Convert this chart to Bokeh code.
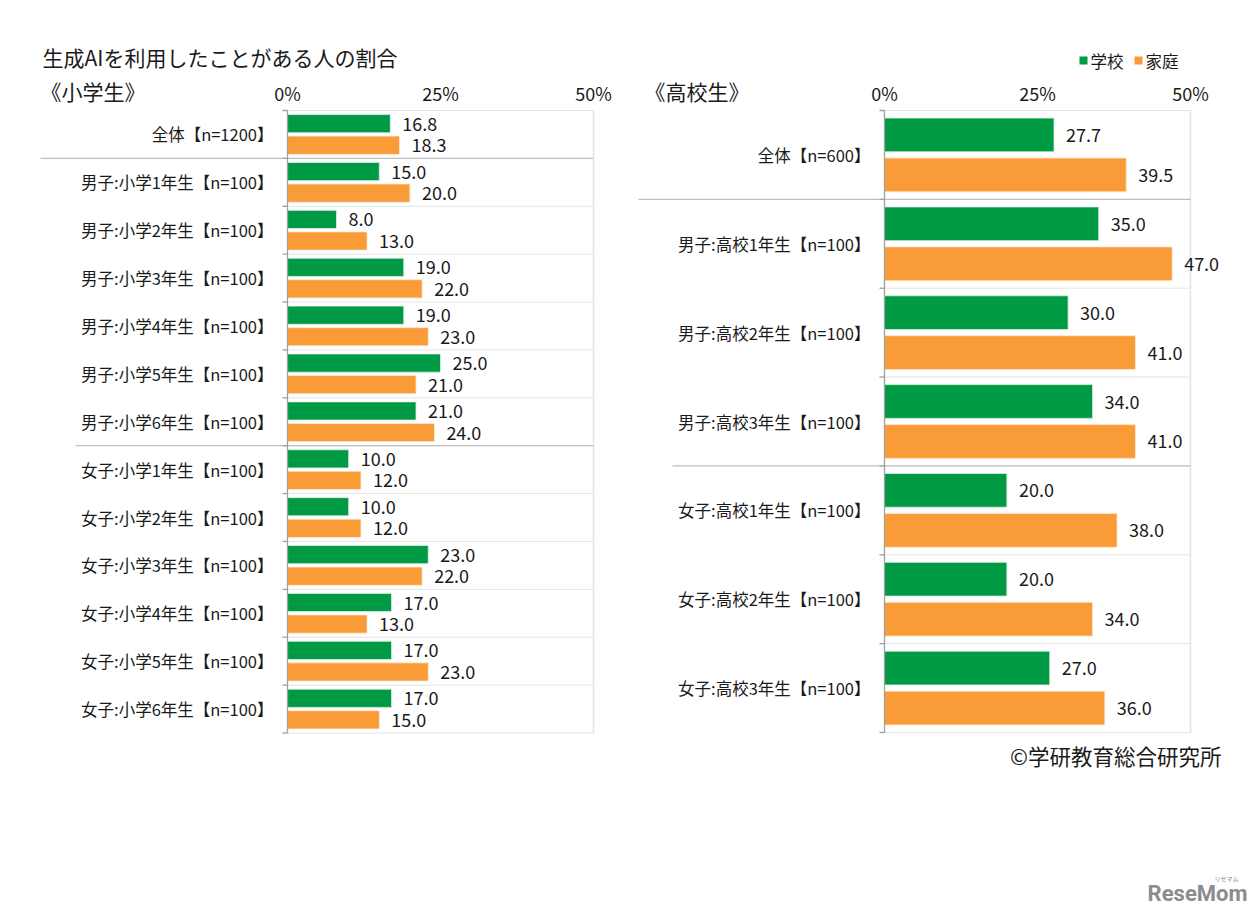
from bokeh.plotting import figure
from bokeh.models import Range1d
from bokeh.core.properties import value
from bokeh.embed import file_html
from bokeh.resources import INLINE

# ---------------- data ----------------
title_text = "生成AIを利用したことがある人の割合"
left_title = "《小学生》"
right_title = "《高校生》"
series_names = ["学校", "家庭"]
credit_text = "©学研教育総合研究所"

left_categories = [
    "全体【n=1200】",
    "男子:小学1年生【n=100】", "男子:小学2年生【n=100】", "男子:小学3年生【n=100】",
    "男子:小学4年生【n=100】", "男子:小学5年生【n=100】", "男子:小学6年生【n=100】",
    "女子:小学1年生【n=100】", "女子:小学2年生【n=100】", "女子:小学3年生【n=100】",
    "女子:小学4年生【n=100】", "女子:小学5年生【n=100】", "女子:小学6年生【n=100】",
]
left_school = [16.8, 15.0, 8.0, 19.0, 19.0, 25.0, 21.0, 10.0, 10.0, 23.0, 17.0, 17.0, 17.0]
left_home = [18.3, 20.0, 13.0, 22.0, 23.0, 21.0, 24.0, 12.0, 12.0, 22.0, 13.0, 23.0, 15.0]

right_categories = [
    "全体【n=600】",
    "男子:高校1年生【n=100】", "男子:高校2年生【n=100】", "男子:高校3年生【n=100】",
    "女子:高校1年生【n=100】", "女子:高校2年生【n=100】", "女子:高校3年生【n=100】",
]
right_school = [27.7, 35.0, 30.0, 34.0, 20.0, 20.0, 27.0]
right_home = [39.5, 47.0, 41.0, 41.0, 38.0, 34.0, 36.0]

x_ticks = [0, 25, 50]
x_tick_labels = ["0%", "25%", "50%"]

# ---------------- style / layout ----------------
FONT = value("Noto Sans CJK JP")
GREEN = "#009A44"
ORANGE = "#F99B37"
TXT = "#1a1a1a"
GRID = "#E4E4E4"
SEP = "#BFBFBF"
AXIS = "#A0A0A0"

W, H = 1252, 908
PX0, PY0 = 0, 0               # page offset of the figure (as photographed)
PX1, PY1 = PX0 + W, PY0 + H

# panel geometry (page pixels)
L_X0, L_X50 = 287, 593
R_X0, R_X50 = 884, 1190
TOP = 110
L_BOT = 732.5
R_BOT = 732
BAR_H = 0.38
OFF = 0.225


def lin_range(lo_px, hi_px, pa, va, pb, vb):
    k = (vb - va) / (pb - pa)
    return Range1d(start=va + (lo_px - pa) * k, end=va + (hi_px - pa) * k)


p = figure(width=W, height=H, output_backend="svg", toolbar_location=None,
           x_range=Range1d(PX0, PX1), y_range=Range1d(PY1, PY0),
           x_axis_location=None, y_axis_location=None,
           min_border=0, min_border_left=0, min_border_right=0,
           min_border_top=0, min_border_bottom=0)
p.outline_line_color = None
p.grid.visible = False
p.background_fill_color = "white"
p.border_fill_color = "white"

nl, nr = len(left_categories), len(right_categories)
p.extra_x_ranges = {
    "lx": lin_range(PX0, PX1, L_X0, 0, L_X50, 50),
    "rx": lin_range(PX0, PX1, R_X0, 0, R_X50, 50),
}
p.extra_y_ranges = {
    "ly": lin_range(PY1, PY0, TOP, -0.5, L_BOT, nl - 0.5),
    "ry": lin_range(PY1, PY0, TOP, -0.5, R_BOT, nr - 0.5),
}


def panel(xr, yr, cats, school, home, seps, sep_start_px, x0_px):
    n = len(cats)
    idx = list(range(n))
    bounds = [i - 0.5 for i in range(n + 1)]
    # light gridlines between categories (inside plot area)
    p.segment(x0=[0] * len(bounds), x1=[50] * len(bounds), y0=bounds, y1=bounds,
              line_color=GRID, line_width=1, x_range_name=xr, y_range_name=yr)
    # right border
    p.segment(x0=[50], x1=[50], y0=[-0.5], y1=[n - 0.5], line_color=GRID,
              line_width=1.5, x_range_name=xr, y_range_name=yr)
    # bars
    p.hbar(y=[i - OFF for i in idx], left=0, right=school, height=BAR_H,
           fill_color=GREEN, line_color="#dff0e6", line_width=0.8,
           x_range_name=xr, y_range_name=yr)
    p.hbar(y=[i + OFF for i in idx], left=0, right=home, height=BAR_H,
           fill_color=ORANGE, line_color="#fde9d2", line_width=0.8,
           x_range_name=xr, y_range_name=yr)
    # group separators (extend into label area) – drawn in page x coords
    for b, sx in zip(seps, sep_start_px):
        p.segment(x0=[sx], x1=[x0_px + 306], y0=[b], y1=[b], line_color=SEP,
                  line_width=1.3, y_range_name=yr)
    # category axis line + ticks
    p.segment(x0=[0], x1=[0], y0=[-0.5], y1=[n - 0.5], line_color=AXIS,
              line_width=1.3, x_range_name=xr, y_range_name=yr)
    p.ray(x=[0] * len(bounds), y=bounds, length=5, angle=3.14159265,
          length_units="screen", line_color=AXIS, line_width=1.3,
          x_range_name=xr, y_range_name=yr)
    # value labels
    p.text(x=school, y=[i - OFF for i in idx], text=[f"{v:.1f}" for v in school],
           x_offset=12, text_align="left", text_baseline="middle",
           text_font=FONT, text_font_size="18px", text_color=TXT,
           x_range_name=xr, y_range_name=yr)
    p.text(x=home, y=[i + OFF for i in idx], text=[f"{v:.1f}" for v in home],
           x_offset=12, text_align="left", text_baseline="middle",
           text_font=FONT, text_font_size="18px", text_color=TXT,
           x_range_name=xr, y_range_name=yr)
    # category labels
    p.text(x=[0] * n, y=idx, text=cats, x_offset=-14, text_align="right",
           text_baseline="middle", text_font=FONT, text_font_size="16.5px",
           text_color=TXT, x_range_name=xr, y_range_name=yr)
    # x tick labels (0% 25% 50%)
    p.text(x=x_ticks, y=[92] * len(x_ticks), text=x_tick_labels,
           text_align="center", text_baseline="middle", text_font=FONT,
           text_font_size="18px", text_color=TXT, x_range_name=xr)


panel("lx", "ly", left_categories, left_school, left_home, [0.5, 6.5], [40, 75], L_X0)
panel("rx", "ry", right_categories, right_school, right_home, [0.5, 3.5], [638, 672], R_X0)

# titles
p.text(x=[42], y=[56], text=[title_text], text_align="left", text_baseline="middle",
       text_font=FONT, text_font_size="21px", text_color=TXT)
p.text(x=[40, 644], y=[90, 90], text=[left_title, right_title], text_align="left",
       text_baseline="middle", text_font=FONT, text_font_size="21px", text_color=TXT)

# legend
p.scatter(x=[1083, 1138], y=[60, 60], marker="square", size=8,
          fill_color=[GREEN, ORANGE], line_color=None)
p.text(x=[1090, 1145], y=[60, 60], text=series_names, text_align="left",
       text_baseline="middle", text_font=FONT, text_font_size="16.5px", text_color=TXT)

# credit
p.text(x=[1221], y=[755], text=[credit_text], text_align="right", text_baseline="middle",
       text_font=FONT, text_font_size="21.5px", text_color=TXT)

# watermark
p.text(x=[1247], y=[893], text=["ReseMom"], text_align="right", text_baseline="middle",
       text_font=value("Roboto"), text_font_size="22px", text_font_style="bold",
       text_color="#8c8c8c")
p.text(x=[1238], y=[878], text=["リセマム"], text_align="right", text_baseline="middle",
       text_font=FONT, text_font_size="6px", text_color="#8c8c8c")

open("out.html", "w").write(file_html(p, INLINE))
